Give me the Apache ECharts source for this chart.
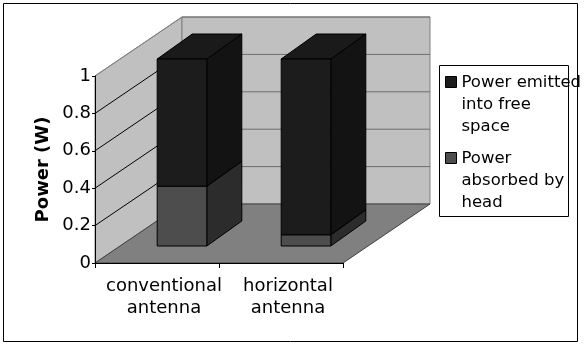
<!DOCTYPE html>
<html>
<head>
<meta charset="utf-8">
<script src="https://cdn.jsdelivr.net/npm/echarts@6/dist/echarts.min.js"></script>
<style>
  html, body { margin: 0; padding: 0; background: #fff; }
  #chart { width: 587px; height: 344px; }
</style>
</head>
<body>
<div id="chart"></div>
<script>
// data
var categories = ['conventional\nantenna', 'horizontal\nantenna'];
var absorbedByHead = [0.32, 0.06];
var emittedIntoSpace = [0.68, 0.94];
var yTicks = [0, 0.2, 0.4, 0.6, 0.8, 1];
var seriesNames = ['Power emitted into free space', 'Power absorbed by head'];
var legendText = {
  'Power emitted into free space': 'Power emitted\ninto free\nspace',
  'Power absorbed by head': 'Power\nabsorbed by\nhead'
};

// fake 3d: pixel offsets going "into" the page
var DEPTH = [87, -59];
var BAR_FRONT = [25, -17];
var BAR_BACK = [60, -42];
var FONT = 'DejaVu Sans';

var chartDom = document.getElementById('chart');
var myChart = echarts.init(chartDom);
var option;

function renderWalls(params, api) {
  var cs = params.coordSys;
  var x0 = cs.x, x1 = cs.x + cs.width;
  var yTop = api.coord([0, 1])[1];
  var yBot = api.coord([0, 0])[1];
  var dx = DEPTH[0], dy = DEPTH[1];
  var children = [
    { type: 'polygon', shape: { points: [[x0, yTop], [x0 + dx, yTop + dy], [x0 + dx, yBot + dy], [x0, yBot]] },
      style: { fill: '#c0c0c0', stroke: '#808080', lineWidth: 1 } },
    { type: 'polygon', shape: { points: [[x0 + dx, yTop + dy], [x1 + dx, yTop + dy], [x1 + dx, yBot + dy], [x0 + dx, yBot + dy]] },
      style: { fill: '#c0c0c0', stroke: '#808080', lineWidth: 1 } },
    { type: 'polygon', shape: { points: [[x0, yBot], [x0 + dx, yBot + dy], [x1 + dx, yBot + dy], [x1, yBot]] },
      style: { fill: '#808080', stroke: '#404040', lineWidth: 1 } }
  ];
  yTicks.forEach(function (v) {
    if (v === 0) return;
    var y = api.coord([0, v])[1];
    children.push({ type: 'line', shape: { x1: x0, y1: y, x2: x0 + dx, y2: y + dy },
      style: { stroke: v === 1 ? '#808080' : '#000', lineWidth: 1 } });
    children.push({ type: 'line', shape: { x1: x0 + dx, y1: y + dy, x2: x1 + dx, y2: y + dy },
      style: { stroke: '#6e6e6e', lineWidth: 1 } });
  });
  return { type: 'group', children: children };
}

function barRenderer(frontColor, sideColor, topColor) {
  return function (params, api) {
    var cat = api.value(0);
    var lo = api.coord([cat, api.value(1)]);
    var hi = api.coord([cat, api.value(2)]);
    var w = api.size([1, 0])[0] * 0.4;
    var xl = lo[0] - w / 2 + BAR_FRONT[0];
    var xr = lo[0] + w / 2 + BAR_FRONT[0];
    var yb = lo[1] + BAR_FRONT[1];
    var yt = hi[1] + BAR_FRONT[1];
    var ex = BAR_BACK[0] - BAR_FRONT[0];
    var ey = BAR_BACK[1] - BAR_FRONT[1];
    var edge = { stroke: '#000', lineWidth: 1 };
    return {
      type: 'group',
      children: [
        { type: 'polygon', shape: { points: [[xr, yt], [xr + ex, yt + ey], [xr + ex, yb + ey], [xr, yb]] },
          style: Object.assign({ fill: sideColor }, edge) },
        { type: 'polygon', shape: { points: [[xl, yt], [xl + ex, yt + ey], [xr + ex, yt + ey], [xr, yt]] },
          style: Object.assign({ fill: topColor }, edge) },
        { type: 'rect', shape: { x: xl, y: yt, width: xr - xl, height: yb - yt },
          style: Object.assign({ fill: frontColor }, edge) }
      ]
    };
  };
}

option = {
  animation: false,
  backgroundColor: '#fff',
  textStyle: { fontFamily: FONT, color: '#000' },
  graphic: [
    // outer chart frame
    { type: 'rect', shape: { x: 3.5, y: 3.5, width: 574, height: 338 },
      style: { fill: 'none', stroke: '#000', lineWidth: 1 }, z: 100 },
    // legend box (text runs over its right edge like the original)
    { type: 'rect', shape: { x: 439.5, y: 65.5, width: 129, height: 151 },
      style: { fill: 'none', stroke: '#000', lineWidth: 1 }, z: 100 }
  ],
  legend: {
    data: seriesNames,
    orient: 'vertical',
    left: 439,
    top: 65,
    padding: [6, 4, 4, 6],
    itemGap: 9,
    itemWidth: 11,
    itemHeight: 66,
    icon: 'path://M0,0 M0,66 M0,5 H11 V16 H0 Z',
    itemStyle: { borderColor: '#000', borderWidth: 1 },
    formatter: function (name) { return legendText[name]; },
    textStyle: { fontFamily: FONT, fontSize: 16.5, lineHeight: 22, color: '#000' }
  },
  grid: { left: 95, top: 76, width: 248, height: 187 },
  xAxis: {
    type: 'category',
    data: categories,
    z: 10,
    axisLine: { lineStyle: { color: '#000', width: 1 } },
    axisTick: { show: true, length: 5, lineStyle: { color: '#000' } },
    axisLabel: {
      interval: 0, hideOverlap: false,
      fontFamily: FONT, fontSize: 18, lineHeight: 22, color: '#000', margin: 12, padding: [0, 0, 0, 14]
    },
    splitLine: { show: false }
  },
  yAxis: {
    type: 'value',
    min: yTicks[0],
    max: yTicks[yTicks.length - 1],
    interval: 0.2,
    z: 10,
    name: 'Power (W)',
    nameLocation: 'middle',
    nameGap: 43,
    nameTextStyle: { fontFamily: FONT, fontSize: 18, fontWeight: 'bold', color: '#000' },
    axisLine: { show: true, lineStyle: { color: '#000', width: 1 } },
    axisTick: { show: true, length: 3, lineStyle: { color: '#000' } },
    axisLabel: { fontFamily: FONT, fontSize: 18, color: '#000', margin: 4 },
    splitLine: { show: false }
  },
  series: [
    {
      type: 'custom',
      name: 'walls',
      silent: true,
      clip: false,
      renderItem: renderWalls,
      data: [[0, 0]],
      encode: { x: 0, y: 1 },
      z: 1
    },
    {
      type: 'custom',
      name: 'Power absorbed by head',
      clip: false,
      itemStyle: { color: '#4d4d4d' },
      renderItem: barRenderer('#4d4d4d', '#2c2c2c', '#3a3a3a'),
      data: categories.map(function (c, i) { return [i, 0, absorbedByHead[i]]; }),
      encode: { x: 0, y: [1, 2] },
      z: 2
    },
    {
      type: 'custom',
      name: 'Power emitted into free space',
      clip: false,
      itemStyle: { color: '#1c1c1c' },
      renderItem: barRenderer('#1c1c1c', '#131313', '#1a1a1a'),
      data: categories.map(function (c, i) {
        return [i, absorbedByHead[i], absorbedByHead[i] + emittedIntoSpace[i]];
      }),
      encode: { x: 0, y: [1, 2] },
      z: 3
    }
  ]
};

option && myChart.setOption(option);
</script>
</body>
</html>
